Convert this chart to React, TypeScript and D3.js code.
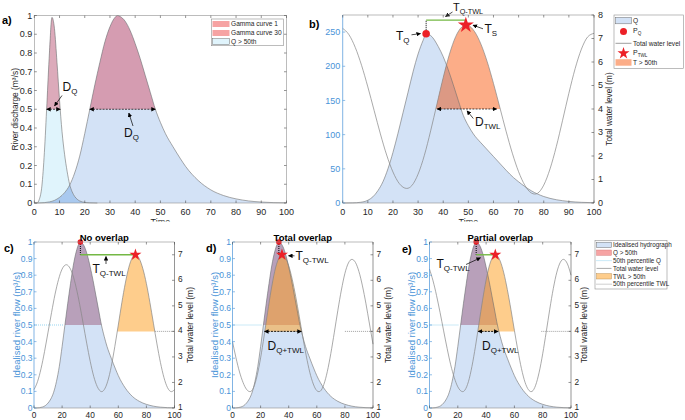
import React from "react";
import * as d3 from "d3";

type Pt = [number, number];

// ---------- DATA ----------
// Panel a: narrow gamma hydrograph ("Gamma curve 1")
const g1Time = [0, 1, 2, 3, 4, 5, 6, 7, 8, 9, 10, 11, 12, 13, 14, 15, 16, 17, 18, 20, 22, 25];
const g1Flow = [0, 0, 0.02, 0.09, 0.27, 0.53, 0.8, 0.99, 0.93, 0.75, 0.55, 0.38, 0.26, 0.17, 0.1, 0.06, 0.035, 0.02, 0.011, 0.003, 0.001, 0];

// Idealised hydrograph ("Gamma curve 30"), used in panels a, c, d, e
const qTime = [0, 2, 4, 6, 8, 10, 12, 14, 16, 18, 20, 22, 24, 26, 28, 30, 32, 33, 34, 36, 38, 40, 42, 44, 46, 48, 50, 52, 55, 58, 60, 65, 70, 75, 80, 85, 90, 95, 100];
const qFlow = [0, 0.0005, 0.002, 0.006, 0.014, 0.03, 0.055, 0.095, 0.16, 0.25, 0.37, 0.5, 0.63, 0.75, 0.86, 0.94, 0.99, 1, 0.995, 0.97, 0.92, 0.85, 0.77, 0.68, 0.59, 0.5, 0.43, 0.37, 0.3, 0.235, 0.195, 0.12, 0.07, 0.04, 0.022, 0.011, 0.005, 0.002, 0.001];

// Panel b: discharge Q
const bTime = [0, 4, 7, 10, 12, 14, 16, 18, 20, 22, 24, 26, 28, 30, 32, 33.2, 35, 38, 40, 42, 44, 46, 48, 50, 52, 55, 58, 60, 62, 65, 68, 70, 75, 80, 85, 90, 95, 100];
const bFlow = [0, 0.2, 1, 4, 9, 18, 31, 50, 74, 102, 132, 162, 192, 218, 238, 247.5, 245, 229, 214, 195, 173, 150, 128, 113, 101, 88, 76, 68, 60, 48, 37, 31, 18, 9.5, 4.8, 2.3, 1, 0.4];

// Panel b: total water level
const twlBTime = [0, 2.5, 5, 7.5, 10, 12.5, 15, 17.5, 20, 22.5, 25.5, 27.5, 30, 32.5, 35, 37.5, 40, 42.5, 45, 47.5, 49, 50, 52.5, 55, 57.5, 60, 62.5, 65, 67.5, 70, 72.5, 75, 76.5, 77.5, 80, 82.5, 85, 87.5, 90, 92.5, 95, 97.5, 100];
const twlB = [7.43, 7.16, 6.62, 5.86, 4.94, 3.94, 2.94, 2.04, 1.32, 0.83, 0.62, 0.74, 1.23, 2.03, 3.07, 4.21, 5.34, 6.34, 7.09, 7.5, 7.57, 7.55, 7.29, 6.76, 6.01, 5.09, 4.08, 3.06, 2.12, 1.33, 0.75, 0.43, 0.38, 0.41, 0.76, 1.45, 2.4, 3.52, 4.67, 5.72, 6.55, 7.07, 7.22];

// Panel c: total water level (no overlap)
const twlCTime = [0, 2.5, 5, 7.5, 10, 12.5, 15, 17.5, 20, 23, 25, 27.5, 30, 32.5, 35, 37.5, 40, 42.5, 45, 48.2, 50, 52.5, 55, 57.5, 60, 62.5, 65, 67.5, 70, 72.2, 75, 77.5, 80, 82.5, 85, 87.5, 90, 92.5, 95, 97.8, 100];
const twlC = [1.72, 2.03, 2.54, 3.21, 3.97, 4.74, 5.46, 6.04, 6.44, 6.61, 6.53, 6.23, 5.72, 5.06, 4.31, 3.54, 2.83, 2.24, 1.84, 1.64, 1.72, 2.05, 2.63, 3.4, 4.25, 5.12, 5.89, 6.51, 6.89, 7.0, 6.84, 6.45, 5.87, 5.13, 4.32, 3.51, 2.78, 2.19, 1.8, 1.64, 1.72];

// Panel d: total water level (total overlap)
const twlDTime = [0, 2.5, 5, 7.5, 10, 12.5, 15, 17.5, 20, 22.5, 25, 27.5, 30, 32.5, 35.2, 37.5, 40, 42.5, 45, 47.5, 50, 52.5, 55, 57.5, 60, 61.5, 62.5, 65, 67.5, 70, 72.5, 75, 77.5, 80, 82.5, 85, 87.5, 90, 92.5, 95, 97.5, 100];
const twlD = [3.6, 2.96, 2.41, 2.0, 1.73, 1.64, 1.8, 2.26, 2.96, 3.82, 4.75, 5.62, 6.34, 6.81, 7.0, 6.9, 6.57, 6.04, 5.36, 4.59, 3.79, 3.04, 2.4, 1.94, 1.68, 1.64, 1.66, 1.92, 2.43, 3.14, 3.97, 4.83, 5.62, 6.27, 6.68, 6.82, 6.7, 6.34, 5.78, 5.08, 4.29, 3.5];

// Panel e: total water level (partial overlap)
const twlETime = [0, 2.5, 5, 7.5, 10, 12.5, 15, 17.5, 20, 23.5, 25, 27.5, 30, 32.5, 35, 37.5, 40, 42.5, 45, 46.5, 47.5, 50, 52.5, 55, 57.5, 60, 62.5, 65, 67.5, 70, 71.8, 72.5, 75, 77.5, 80, 82.5, 85, 87.5, 90, 92.5, 94.6, 97.5, 100];
const twlE = [6.44, 5.98, 5.4, 4.73, 4.02, 3.32, 2.69, 2.19, 1.83, 1.64, 1.7, 2.03, 2.63, 3.42, 4.32, 5.22, 6.01, 6.61, 6.94, 7.0, 6.98, 6.75, 6.29, 5.64, 4.87, 4.04, 3.24, 2.54, 2.01, 1.71, 1.64, 1.65, 1.89, 2.4, 3.12, 3.98, 4.87, 5.68, 6.32, 6.71, 6.82, 6.64, 6.2];

// Thresholds and peaks
const Q50 = 0.5;
const TWL50 = 4.0;
const TWL50_B = 4.0;
const peakQ: Pt = [33, 1.0];
const peakB_Q: Pt = [33.2, 247.5];
const peakB_TWL: Pt = [49, 7.57];

// Tick values
const xTicksTop = [0, 10, 20, 30, 40, 50, 60, 70, 80, 90, 100];
const xTicksBottom = [0, 20, 40, 60, 80, 100];
const yTicksA = [0, 0.1, 0.2, 0.3, 0.4, 0.5, 0.6, 0.7, 0.8, 0.9, 1];
const yTicksBL = [0, 50, 100, 150, 200, 250];
const yTicksBR = [0, 1, 2, 3, 4, 5, 6, 7, 8];
const yTicksCR = [1, 2, 3, 4, 5, 6, 7];

// ---------- STYLE ----------
const FONT = "'Liberation Sans', Arial, Helvetica, sans-serif";
const TXT = "#262626";
const AX = "#8f8f8f";
const AXD = "#4d4d4d";
const BLUE_AX = "#4a94d8";
const BLUE = "#d3e2f6";
const CYAN = "#e0f4fc";
const DEEPBLUE = "#a9c9ef";
const MAUVE_A = "#d59cb1";
const MAUVE_A2 = "#dcaaba";
const PINK = "#f6a3a3";
const ORANGE_B = "#fcad88";
const ORANGE_BO = "#dc9984";
const MAUVE_C = "#b8a0ba";
const ORANGE_C = "#fda42e";
const ORANGE_LEG = "#fecd8c";
const GREEN = "#74b844";
const RED = "#ec2027";
const CURVE = "#6e6e6e";
const TWLC = "#858585";

const zip = (t: number[], v: number[]): Pt[] => t.map((x, i) => [x, v[i]]);
const fmt1 = (v: number) => String(+v.toFixed(1));

function Sub({ x, y, main, sub, size = 12, subSize, fill = "#111", anchor = "start" }: any) {
  const ss = subSize ?? size * 0.66;
  return (
    <text x={x} y={y} fontSize={size} fill={fill} textAnchor={anchor} fontFamily={FONT}>
      {main}
      <tspan fontSize={ss} dy={size * 0.28}>{sub}</tspan>
    </text>
  );
}

function Arrow({ x1, y1, x2, y2, dashed = false, both = false, w = 0.7 }: any) {
  return (
    <line x1={x1} y1={y1} x2={x2} y2={y2} stroke="#000" strokeWidth={w}
      strokeDasharray={dashed ? "2 1.2" : undefined}
      markerEnd="url(#ah)" markerStart={both ? "url(#ah)" : undefined} />
  );
}

function XTicks({ x, ticks, top, bottom, labelY, size = 9 }: any) {
  return (
    <g>
      {ticks.map((t: number) => (
        <g key={t}>
          <line x1={x(t)} x2={x(t)} y1={bottom} y2={bottom - 2.5} stroke={AXD} strokeWidth={0.6} />
          <line x1={x(t)} x2={x(t)} y1={top} y2={top + 2.5} stroke={AXD} strokeWidth={0.6} />
          <text x={x(t)} y={labelY} textAnchor="middle" fontSize={size} fill={TXT} fontFamily={FONT}>{t}</text>
        </g>
      ))}
    </g>
  );
}

function YTicks({ y, ticks, xPos, dir, labelX, anchor, color, fmt = (v: number) => String(v), mirrorX, size = 9, dyf = 0.35 }: any) {
  return (
    <g>
      {ticks.map((t: number) => (
        <g key={t}>
          <line x1={xPos} x2={xPos + dir * 2.5} y1={y(t)} y2={y(t)} stroke={color} strokeWidth={0.6} />
          {mirrorX !== undefined && (
            <line x1={mirrorX} x2={mirrorX - dir * 2.5} y1={y(t)} y2={y(t)} stroke={color} strokeWidth={0.6} />
          )}
          <text x={labelX} y={y(t) + size * dyf} textAnchor={anchor} fontSize={size} fill={color === AXD ? TXT : color} fontFamily={FONT}>{fmt(t)}</text>
        </g>
      ))}
    </g>
  );
}

// ---------- PANEL A ----------
function PanelA() {
  const x = d3.scaleLinear().domain([0, 100]).range([34.3, 286.5]);
  const y = d3.scaleLinear().domain([0, 1]).range([203, 15.5]);
  const wide = zip(qTime, qFlow);
  const narrow = zip(g1Time, g1Flow);
  const area = d3.area<Pt>().x(d => x(d[0])).y0(y(0)).y1(d => y(d[1])).curve(d3.curveMonotoneX);
  const line = d3.line<Pt>().x(d => x(d[0])).y(d => y(d[1])).curve(d3.curveMonotoneX);
  const wD = area(wide)!;
  const nD = area(narrow)!;
  const L = x(0), R = x(100), T = y(1), B = y(0);
  return (
    <g>
      <defs>
        <clipPath id="aAbove"><rect x={L} y={0} width={R - L} height={y(Q50)} /></clipPath>
        <clipPath id="aNarrow"><path d={nD} /></clipPath>
      </defs>
      <path d={wD} fill={BLUE} />
      <path d={nD} fill={CYAN} />
      <path d={wD} fill={DEEPBLUE} clipPath="url(#aNarrow)" />
      <path d={wD} fill={MAUVE_A} clipPath="url(#aAbove)" />
      <path d={nD} fill={MAUVE_A2} clipPath="url(#aAbove)" />
      <path d={line(wide)!} fill="none" stroke={CURVE} strokeWidth={0.6} />
      <path d={line(narrow)!} fill="none" stroke={CURVE} strokeWidth={0.6} />
      <Arrow x1={x(4.9)} y1={y(Q50)} x2={x(10.3)} y2={y(Q50)} dashed both />
      <Arrow x1={x(22)} y1={y(Q50)} x2={x(48)} y2={y(Q50)} dashed both />
      <Sub x={62.5} y={90.5} main="D" sub="Q" size={12} />
      <Arrow x1={62} y1={95.5} x2={54.5} y2={106} />
      <Sub x={124} y={136.5} main="D" sub="Q" size={12} />
      <Arrow x1={133} y1={126} x2={128.8} y2={113} />
      <rect x={L} y={T} width={R - L} height={B - T} fill="none" stroke={AX} strokeWidth={0.6} />
      <XTicks x={x} ticks={xTicksTop} top={T} bottom={B} labelY={215} />
      <YTicks y={y} ticks={yTicksA} xPos={L} dir={1} labelX={L - 2} anchor="end" color={AXD} fmt={fmt1} mirrorX={R} />
      <text transform={`translate(17.5,${(T + B) / 2}) rotate(-90)`} textAnchor="middle" fontSize={8.4} fill={TXT} fontFamily={FONT}>River discharge (m³/s)</text>
      <text x={(L + R) / 2} y={224.5} textAnchor="middle" fontSize={9} fill={TXT} fontFamily={FONT} clipPath="url(#topClip)">Time</text>
      <text x={2} y={24} fontSize={11} fontWeight="bold" fill="#000" fontFamily={FONT}>a)</text>
      <g fontFamily={FONT} fontSize={6.6} fill={TXT}>
        <rect x={211.3} y={19} width={72} height={26.7} fill="#fff" stroke={AX} strokeWidth={0.6} />
        <rect x={212.5} y={21} width={17} height={6} fill={PINK} />
        <text x={231} y={26.3}>Gamma curve 1</text>
        <rect x={212.5} y={30} width={17} height={6} fill={PINK} />
        <text x={231} y={35.3}>Gamma curve 30</text>
        <rect x={212.5} y={38.7} width={17} height={6} fill={CYAN} stroke={CURVE} strokeWidth={0.5} />
        <text x={231} y={44}>Q &gt; 50th</text>
      </g>
    </g>
  );
}

// ---------- PANEL B ----------
function PanelB() {
  const x = d3.scaleLinear().domain([0, 100]).range([342.7, 594]);
  const yL = d3.scaleLinear().domain([0, 275]).range([203, 15]);
  const yR = d3.scaleLinear().domain([0, 8]).range([203, 15]);
  const q = zip(bTime, bFlow);
  const w = zip(twlBTime, twlB);
  const qA = d3.area<Pt>().x(d => x(d[0])).y0(yL(0)).y1(d => yL(d[1])).curve(d3.curveMonotoneX)(q)!;
  const qL = d3.line<Pt>().x(d => x(d[0])).y(d => yL(d[1])).curve(d3.curveMonotoneX)(q)!;
  const wA = d3.area<Pt>().x(d => x(d[0])).y0(yR(0)).y1(d => yR(d[1])).curve(d3.curveMonotoneX)(w)!;
  const wL = d3.line<Pt>().x(d => x(d[0])).y(d => yR(d[1])).curve(d3.curveMonotoneX)(w)!;
  const L = x(0), R = x(100), T = 15, B = 203;
  const star = d3.symbol().type(d3.symbolStar).size(80)()!;
  const starS = d3.symbol().type(d3.symbolStar).size(45)()!;
  const greenY = yR(7.78);
  return (
    <g>
      <defs>
        <clipPath id="bAbove"><rect x={x(25.5)} y={0} width={x(76.5) - x(25.5)} height={yR(TWL50_B)} /></clipPath>
        <clipPath id="bQ"><path d={qA} /></clipPath>
      </defs>
      <path d={qA} fill={BLUE} />
      <path d={wA} fill={ORANGE_B} clipPath="url(#bAbove)" />
      <g clipPath="url(#bQ)">
        <path d={wA} fill={ORANGE_BO} clipPath="url(#bAbove)" />
      </g>
      <path d={qL} fill="none" stroke={CURVE} strokeWidth={0.6} />
      <path d={wL} fill="none" stroke={TWLC} strokeWidth={0.7} />
      <line x1={x(peakB_Q[0])} x2={x(peakB_Q[0])} y1={yL(peakB_Q[1])} y2={greenY} stroke="#000" strokeWidth={1} strokeDasharray="1 1" />
      <line x1={x(peakB_Q[0])} x2={x(peakB_TWL[0])} y1={greenY} y2={greenY} stroke={GREEN} strokeWidth={1.4} />
      <circle cx={x(peakB_Q[0])} cy={yL(peakB_Q[1])} r={3.8} fill={RED} />
      <path d={star} transform={`translate(${x(peakB_TWL[0])},${yR(peakB_TWL[1])})`} fill={RED} />
      <Arrow x1={x(37.6)} y1={yR(TWL50_B)} x2={x(61.3)} y2={yR(TWL50_B)} dashed both />
      <Sub x={453} y={11} main="T" sub="Q-TWL" size={11} />
      <Arrow x1={452.5} y1={12} x2={445.5} y2={16.5} />
      <Sub x={396} y={40} main="T" sub="Q" size={12} />
      <Arrow x1={411.5} y1={34.8} x2={420.5} y2={33.6} />
      <Sub x={484.5} y={33} main="T" sub="S" size={12} />
      <Arrow x1={483} y1={28.8} x2={473} y2={25.2} />
      <Sub x={475} y={126} main="D" sub="TWL" size={12} />
      <Arrow x1={473.3} y1={118.5} x2={467} y2={110.8} />
      <line x1={L} x2={R} y1={T} y2={T} stroke={AX} strokeWidth={0.6} />
      <line x1={L} x2={R} y1={B} y2={B} stroke={AX} strokeWidth={0.6} />
      <line x1={L} x2={L} y1={T} y2={B} stroke={BLUE_AX} strokeWidth={0.7} />
      <line x1={R} x2={R} y1={T} y2={B} stroke={AXD} strokeWidth={0.6} />
      <XTicks x={x} ticks={xTicksTop} top={T} bottom={B} labelY={215} />
      <YTicks y={yL} ticks={yTicksBL} xPos={L} dir={1} labelX={L - 2.5} anchor="end" color={BLUE_AX} />
      <YTicks y={yR} ticks={yTicksBR} xPos={R} dir={-1} labelX={598} anchor="start" color={AXD} dyf={0.3} />
      <text transform={`translate(612,${(T + B) / 2}) rotate(-90)`} textAnchor="middle" fontSize={8.2} fill={TXT} fontFamily={FONT}>Total water level (m)</text>
      <text x={(L + R) / 2} y={224.5} textAnchor="middle" fontSize={9} fill={TXT} fontFamily={FONT} clipPath="url(#topClip)">Time</text>
      <text x={309} y={28} fontSize={11} fontWeight="bold" fill="#000" fontFamily={FONT}>b)</text>
      <g fontFamily={FONT} fontSize={6.6} fill={TXT}>
        <rect x={614} y={15} width={69.3} height={53.3} fill="#fff" stroke={AX} strokeWidth={0.6} />
        <rect x={615.5} y={17.3} width={16} height={6.5} fill={BLUE} stroke={CURVE} strokeWidth={0.5} />
        <text x={633} y={23}>Q</text>
        <circle cx={623.5} cy={31.5} r={3.5} fill={RED} />
        <Sub x={633} y={33} main="P" sub="Q" size={7} fill={TXT} />
        <line x1={615.5} x2={631.5} y1={43.3} y2={43.3} stroke={TWLC} strokeWidth={0.8} />
        <text x={633} y={45.6}>Total water level</text>
        <path d={starS} transform="translate(623.5,53.3)" fill={RED} />
        <Sub x={633} y={55} main="P" sub="TWL" size={7} fill={TXT} />
        <rect x={615.5} y={59.2} width={16} height={6.5} fill={ORANGE_B} />
        <text x={633} y={65}>T &gt; 50th</text>
      </g>
    </g>
  );
}

// ---------- PANELS C, D, E ----------
const bottomPanels = [
  { id: "c", letter: "c)", letterX: 4, letterY: 252, title: "No overlap", x0: 34, x1: 174.5, t: twlCTime, v: twlC, peak: [72.2, 7.0] as Pt, win: [48.2, 97.8], cyanEnd: 21, greyStart: 86, leftLabelX: 19.5, rightTickX: 178, rightLabelX: 193 },
  { id: "d", letter: "d)", letterX: 206, letterY: 252, title: "Total overlap", x0: 232.5, x1: 373, t: twlDTime, v: twlD, peak: [35.2, 7.0] as Pt, win: [12.5, 61.5], cyanEnd: 20.6, greyStart: 80, leftLabelX: 217.5, rightTickX: 376.5, rightLabelX: 390.5 },
  { id: "e", letter: "e)", letterX: 402, letterY: 253, title: "Partial overlap", x0: 429.5, x1: 571, t: twlETime, v: twlE, peak: [46.5, 7.0] as Pt, win: [23.5, 71.8], cyanEnd: 20.4, greyStart: 79, leftLabelX: 414.5, rightTickX: 574.5, rightLabelX: 586.5 },
];

function PanelBottom({ cfg }: any) {
  const { id, x0, x1, t, v, peak, win } = cfg;
  const T = 242, B = 408;
  const x = d3.scaleLinear().domain([0, 100]).range([x0, x1]);
  const yL = d3.scaleLinear().domain([0, 1]).range([B, T]);
  const yR = d3.scaleLinear().domain([1, 7.5]).range([B, T]);
  const q = zip(qTime, qFlow);
  const w = zip(t, v);
  const qA = d3.area<Pt>().x(d => x(d[0])).y0(B).y1(d => yL(d[1])).curve(d3.curveMonotoneX)(q)!;
  const qL = d3.line<Pt>().x(d => x(d[0])).y(d => yL(d[1])).curve(d3.curveMonotoneX)(q)!;
  const wA = d3.area<Pt>().x(d => x(d[0])).y0(B).y1(d => yR(d[1])).curve(d3.curveMonotoneX)(w)!;
  const wL = d3.line<Pt>().x(d => x(d[0])).y(d => yR(d[1])).curve(d3.curveMonotoneX)(w)!;
  const star = d3.symbol().type(d3.symbolStar).size(45)()!;
  const gy = yR(peak[1]);
  const lvl = yR(TWL50);
  return (
    <g>
      <defs>
        <clipPath id={id + "Qa"}><rect x={x0} y={0} width={x1 - x0} height={yL(Q50)} /></clipPath>
        <clipPath id={id + "Wa"}><rect x={x(win[0])} y={0} width={x(win[1]) - x(win[0])} height={lvl} /></clipPath>
      </defs>
      <path d={qA} fill={BLUE} />
      <path d={qA} fill={MAUVE_C} clipPath={`url(#${id}Qa)`} />
      <path d={wA} fill={ORANGE_C} fillOpacity={0.55} clipPath={`url(#${id}Wa)`} />
      <line x1={x(0)} x2={x(cfg.cyanEnd)} y1={yL(Q50)} y2={yL(Q50)} stroke="#6cc3ea" strokeWidth={0.7} strokeDasharray="1 1" />
      <line x1={x(cfg.greyStart)} x2={x(100)} y1={lvl} y2={lvl} stroke="#777" strokeWidth={0.7} strokeDasharray="1 1" />
      <path d={qL} fill="none" stroke={CURVE} strokeWidth={0.6} />
      <path d={wL} fill="none" stroke={TWLC} strokeWidth={0.7} />
      <line x1={x(peakQ[0])} x2={x(peakQ[0])} y1={yL(peakQ[1])} y2={gy} stroke="#000" strokeWidth={1} strokeDasharray="1 1" />
      <line x1={x(peakQ[0])} x2={x(peak[0])} y1={gy} y2={gy} stroke={GREEN} strokeWidth={1.4} />
      <circle cx={x(peakQ[0])} cy={yL(peakQ[1])} r={2.8} fill={RED} />
      <path d={star} transform={`translate(${x(peak[0])},${gy})`} fill={RED} />
      {id === "c" && (
        <g>
          <Arrow x1={106} y1={264} x2={106} y2={256.5} />
          <Sub x={92.5} y={273} main="T" sub="Q-TWL" size={12} subSize={8} />
        </g>
      )}
      {id === "d" && (
        <g>
          <Arrow x1={294.5} y1={255.8} x2={288.5} y2={255.8} />
          <Sub x={295.5} y={260} main="T" sub="Q-TWL" size={12} subSize={8} />
          <Arrow x1={x(22.8)} y1={lvl} x2={x(49)} y2={lvl} dashed both w={0.9} />
          <Sub x={267.5} y={350} main="D" sub="Q+TWL" size={12} subSize={8} />
        </g>
      )}
      {id === "e" && (
        <g>
          <Sub x={436.5} y={268} main="T" sub="Q-TWL" size={12} subSize={8} />
          <Arrow x1={466} y1={264.5} x2={480.5} y2={257.8} />
          <Arrow x1={x(34.5)} y1={lvl} x2={x(48.5)} y2={lvl} dashed both w={0.9} />
          <Sub x={482} y={350} main="D" sub="Q+TWL" size={12} subSize={8} />
        </g>
      )}
      <line x1={x0} x2={x1} y1={T} y2={T} stroke={AX} strokeWidth={0.6} />
      <line x1={x0} x2={x1} y1={B} y2={B} stroke={AX} strokeWidth={0.6} />
      <line x1={x0} x2={x0} y1={T} y2={B} stroke={BLUE_AX} strokeWidth={0.7} />
      <line x1={x1} x2={x1} y1={T} y2={B} stroke={AXD} strokeWidth={0.6} />
      <XTicks x={x} ticks={xTicksBottom} top={T} bottom={B} labelY={418.2} size={8.3} />
      <YTicks y={yL} ticks={yTicksA} xPos={x0} dir={1} labelX={x0 - 1.5} anchor="end" color={BLUE_AX} fmt={fmt1} size={8.5} />
      <YTicks y={yR} ticks={yTicksCR} xPos={x1} dir={-1} labelX={cfg.rightTickX} anchor="start" color={AXD} size={8.3} dyf={0.25} />
      <text transform={`translate(${cfg.leftLabelX},${(T + B) / 2}) rotate(-90)`} textAnchor="middle" fontSize={9.5} fill={BLUE_AX} fontFamily={FONT}>Idealised river flow (m³/s)</text>
      <text transform={`translate(${cfg.rightLabelX},${(T + B) / 2}) rotate(-90)`} textAnchor="middle" fontSize={8.5} fill={TXT} fontFamily={FONT}>Total water level (m)</text>
      <text x={(x0 + x1) / 2} y={240.5} textAnchor="middle" fontSize={9.5} fontWeight="bold" fill="#000" fontFamily={FONT}>{cfg.title}</text>
      <text x={cfg.letterX} y={cfg.letterY} fontSize={11} fontWeight="bold" fill="#000" fontFamily={FONT}>{cfg.letter}</text>
    </g>
  );
}

function LegendBottom() {
  const rows = [245, 252.8, 260.6, 268.4, 276.4, 284.2];
  const px = 596.5, pw = 15, tx = 613;
  return (
    <g fontFamily={FONT} fontSize={6.3} fill={TXT}>
      <rect x={595} y={240.5} width={72} height={48.5} fill="#fff" stroke={AX} strokeWidth={0.6} />
      <rect x={px} y={rows[0] - 2.8} width={pw} height={5.4} fill={BLUE} stroke={CURVE} strokeWidth={0.5} />
      <text x={tx} y={rows[0] + 2.2}>Idealised hydrograph</text>
      <rect x={px} y={rows[1] - 2.8} width={pw} height={5.4} fill={PINK} stroke="#d07070" strokeWidth={0.4} />
      <text x={tx} y={rows[1] + 2.2}>Q &gt; 50th</text>
      <line x1={px} x2={px + pw} y1={rows[2]} y2={rows[2]} stroke="#6cc3ea" strokeWidth={0.7} strokeDasharray="1 1" />
      <text x={tx} y={rows[2] + 2.2}>50th percentile Q</text>
      <line x1={px} x2={px + pw} y1={rows[3]} y2={rows[3]} stroke={TWLC} strokeWidth={0.7} />
      <text x={tx} y={rows[3] + 2.2}>Total water level</text>
      <rect x={px} y={rows[4] - 2.8} width={pw} height={5.4} fill={ORANGE_LEG} stroke="#b08040" strokeWidth={0.4} />
      <text x={tx} y={rows[4] + 2.2}>TWL &gt; 50th</text>
      <line x1={px} x2={px + pw} y1={rows[5]} y2={rows[5]} stroke="#777" strokeWidth={0.7} strokeDasharray="1 1" />
      <text x={tx} y={rows[5] + 2.2}>50th percentile TWL</text>
    </g>
  );
}

export default function App() {
  return (
    <svg width={685} height={420} viewBox="0 0 685 420"
      style={{ position: "absolute", left: 0, top: 0, background: "#fff" }} fontFamily={FONT}>
      <defs>
        <marker id="ah" viewBox="0 0 10 10" refX="9" refY="5" markerWidth="4.5" markerHeight="4.5"
          markerUnits="userSpaceOnUse" orient="auto-start-reverse">
          <path d="M0,0L10,5L0,10z" fill="#000" />
        </marker>
        <clipPath id="topClip"><rect x={0} y={0} width={685} height={221.5} /></clipPath>
      </defs>
      <rect x={0} y={0} width={685} height={420} fill="#fff" />
      <PanelA />
      <PanelB />
      {bottomPanels.map(p => <PanelBottom key={p.id} cfg={p} />)}
      <LegendBottom />
    </svg>
  );
}
